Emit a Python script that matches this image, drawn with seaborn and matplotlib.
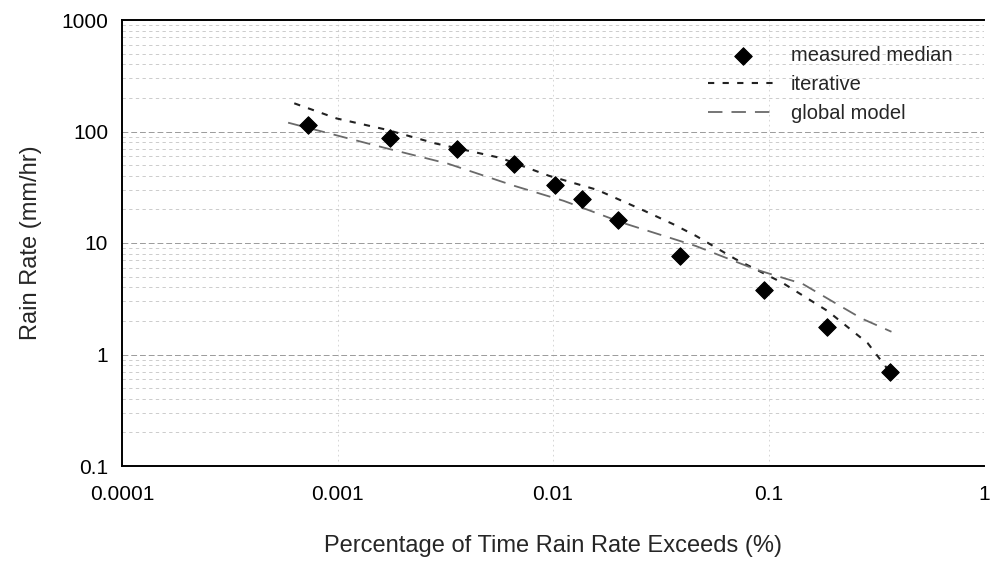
import matplotlib
matplotlib.use("Agg")
import matplotlib.pyplot as plt
import seaborn as sns
import pandas as pd
from matplotlib.ticker import FixedLocator, FixedFormatter, LogLocator, NullFormatter

# ---- data ----
measured_pct = [0.00073, 0.00175, 0.0036, 0.0066, 0.0102, 0.0136, 0.020, 0.039, 0.095, 0.187, 0.365]
measured_rate = [115, 88, 69, 51, 33, 25, 16, 7.6, 3.8, 1.75, 0.70]

iter_pct = [0.00063, 0.00099, 0.00168, 0.00286, 0.0057, 0.0096, 0.016, 0.0257, 0.036, 0.046, 0.070, 0.116, 0.189, 0.289, 0.365]
iter_rate = [179, 131, 104, 78, 58, 40, 30, 20, 14.8, 11.6, 7.2, 4.4, 2.44, 1.26, 0.70]

global_pct = [0.00059, 0.00109, 0.00172, 0.00325, 0.0066, 0.0112, 0.0212, 0.046, 0.087, 0.144, 0.21, 0.271, 0.372]
global_rate = [120, 88, 70, 51.5, 32.6, 23.9, 15.1, 9.4, 5.8, 4.3, 2.8, 2.1, 1.6]

x_ticks = [0.0001, 0.001, 0.01, 0.1, 1]
x_tick_labels = ["0.0001", "0.001", "0.01", "0.1", "1"]
y_ticks = [0.1, 1, 10, 100, 1000]
y_tick_labels = ["0.1", "1", "10", "100", "1000"]

series_names = ["measured median", "iterative", "global model"]

sns.set_theme(style="white")
plt.rcParams["font.family"] = ["Liberation Sans", "DejaVu Sans"]

W, H = 992, 575
fig = plt.figure(figsize=(W / 100, H / 100), dpi=100)
left_px, right_px, top_px, bottom_px = 122, 984, 20, 466
ax = fig.add_axes([left_px / W, 1 - bottom_px / H,
                   (right_px - left_px) / W, (bottom_px - top_px) / H])

ax.set_xscale("log")
ax.set_yscale("log")

df_iter = pd.DataFrame({"pct": iter_pct, "rate": iter_rate})
df_glob = pd.DataFrame({"pct": global_pct, "rate": global_rate})
df_meas = pd.DataFrame({"pct": measured_pct, "rate": measured_rate})

sns.scatterplot(data=df_meas, x="pct", y="rate", ax=ax, marker="D", s=80,
                color="black", edgecolor="black", zorder=5, label=series_names[0])
sns.lineplot(data=df_iter, x="pct", y="rate", sort=False, ax=ax, color="#222222",
             linewidth=1.5, linestyle=(0, (3, 4)), label=series_names[1])
sns.lineplot(data=df_glob, x="pct", y="rate", sort=False, ax=ax, color="#6a6a6a",
             linewidth=1.3, linestyle=(0, (8, 5)), label=series_names[2])

ax.set_xlim(1e-4, 1)
ax.set_ylim(0.1, 1000)

ax.xaxis.set_major_locator(FixedLocator(x_ticks))
ax.xaxis.set_major_formatter(FixedFormatter(x_tick_labels))
ax.yaxis.set_major_locator(FixedLocator(y_ticks))
ax.yaxis.set_major_formatter(FixedFormatter(y_tick_labels))
ax.xaxis.set_minor_locator(LogLocator(base=10, subs=range(2, 10)))
ax.yaxis.set_minor_locator(LogLocator(base=10, subs=range(2, 10)))
ax.xaxis.set_minor_formatter(NullFormatter())
ax.yaxis.set_minor_formatter(NullFormatter())

ax.grid(True, which="major", axis="y", color="#9a9a9a", linestyle=(0, (6, 3)), linewidth=0.7)
ax.grid(True, which="minor", axis="y", color="#c4c4c4", linestyle=(0, (4, 4)), linewidth=0.6)
ax.grid(True, which="major", axis="x", color="#d0d0d0", linestyle=(0, (2, 4)), linewidth=0.6)

ax.tick_params(axis="both", which="major", labelsize=15, length=4, width=1,
               direction="in", colors="black")
ax.tick_params(axis="x", which="major", pad=14)
ax.tick_params(axis="y", which="major", pad=10)
ax.tick_params(axis="both", which="minor", length=2, width=0.8, direction="in")
ax.tick_params(axis="x", which="minor", length=0)

for side in ["left", "bottom", "top"]:
    ax.spines[side].set_color("black")
    ax.spines[side].set_linewidth(1.4)
ax.spines["right"].set_visible(False)

ax.set_xlabel("Percentage of Time Rain Rate Exceeds (%)", fontsize=17, labelpad=22)
ax.set_ylabel("Rain Rate (mm/hr)", fontsize=17, labelpad=14)

handles, labels = ax.get_legend_handles_labels()
order = [labels.index(n) for n in series_names]
leg = ax.legend([handles[i] for i in order], [labels[i] for i in order],
                loc="upper left", bbox_to_anchor=(708 / W, 1 - 46 / H),
                bbox_transform=fig.transFigure, frameon=False,
                borderaxespad=0, borderpad=0,
                fontsize=14.5, handlelength=3.5, labelspacing=0.5, handletextpad=0.6)

fig.savefig("out.png", dpi=100)
